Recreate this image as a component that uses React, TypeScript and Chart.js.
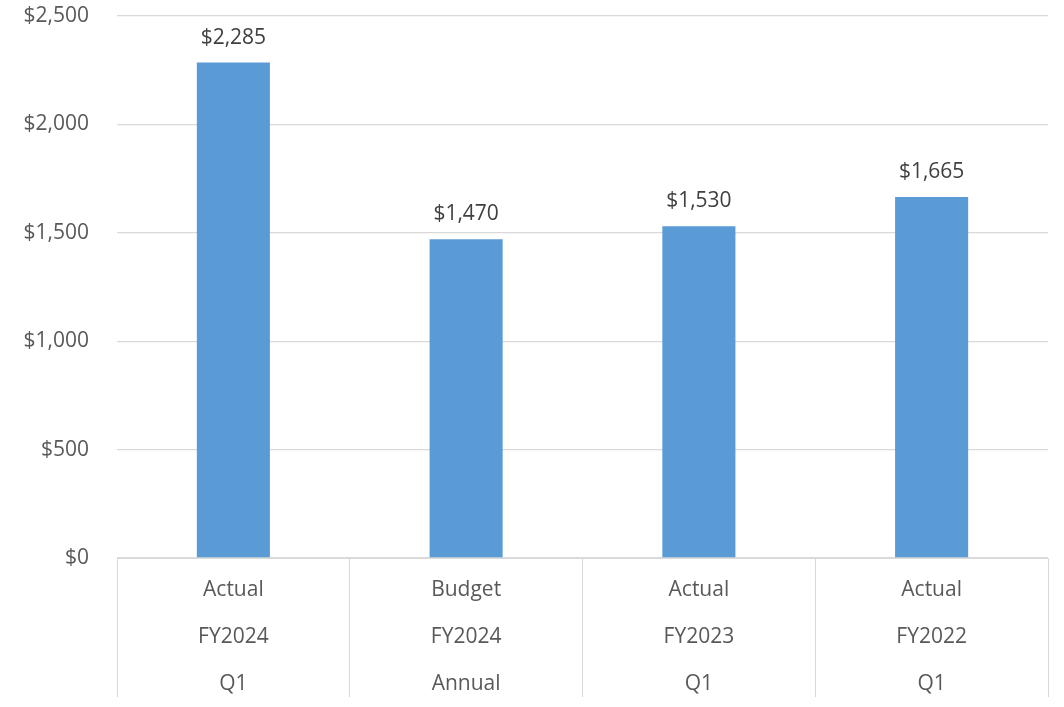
import React, { useEffect, useRef } from "react";
import { Chart, registerables } from "chart.js";

Chart.register(...registerables);

const categories: string[][] = [
  ["Actual", "FY2024", "Q1"],
  ["Budget", "FY2024", "Annual"],
  ["Actual", "FY2023", "Q1"],
  ["Actual", "FY2022", "Q1"],
];
const values: number[] = [2285, 1470, 1530, 1665];
const yTicks: number[] = [0, 500, 1000, 1500, 2000, 2500];

const FONT = "'Open Sans', 'Noto Sans', sans-serif";
const fmt = (v: number) => "$" + v.toLocaleString("en-US");

const valueLabels = {
  id: "valueLabels",
  afterDatasetsDraw(chart: any) {
    const ctx = chart.ctx;
    const meta = chart.getDatasetMeta(0);
    ctx.save();
    ctx.font = `21px ${FONT}`;
    ctx.fillStyle = "#404040";
    ctx.textAlign = "center";
    ctx.textBaseline = "middle";
    meta.data.forEach((bar: any, i: number) => {
      ctx.fillText(fmt(values[i]), bar.x, bar.y - 25);
    });
    ctx.restore();
  },
};

export default function App() {
  const ref = useRef<HTMLCanvasElement | null>(null);
  useEffect(() => {
    if (!ref.current) return;
    const chart = new Chart(ref.current, {
      type: "bar",
      data: {
        labels: categories,
        datasets: [
          {
            data: values,
            backgroundColor: "#5b9bd5",
            categoryPercentage: 1,
            barPercentage: 0.314,
          },
        ],
      },
      options: {
        responsive: false,
        animation: false,
        layout: { padding: { top: 16, right: 16, left: 0, bottom: 0 } },
        plugins: { legend: { display: false }, tooltip: { enabled: false } },
        scales: {
          x: {
            offset: true,
            afterFit: (s: any) => {
              s.height = 149;
              s.paddingLeft = 0;
              s.paddingRight = 0;
            },
            grid: {
              offset: true,
              drawOnChartArea: false,
              drawTicks: true,
              tickLength: 139,
              tickColor: "#d9d9d9",
              color: "#d9d9d9",
            },
            border: { display: true, color: "#d9d9d9" },
            ticks: {
              padding: -130.5,
              color: "#595959",
              font: { family: FONT, size: 21, lineHeight: 47 / 21 },
              maxRotation: 0,
              autoSkip: false,
            },
          },
          y: {
            min: 0,
            max: 2500,
            afterFit: (s: any) => {
              s.width = 117;
              s.paddingTop = 0;
              s.paddingBottom = 0;
            },
            afterBuildTicks: (s: any) => {
              s.ticks = yTicks.map((v) => ({ value: v }));
            },
            grid: { color: "#d9d9d9", drawTicks: false, lineWidth: 1.3 },
            border: { display: false },
            ticks: {
              padding: 28,
              color: "#595959",
              font: { family: FONT, size: 21 },
              callback: (v: any) => fmt(Number(v)),
            },
          },
        },
      },
      plugins: [valueLabels],
    });
    return () => chart.destroy();
  }, []);
  return (
    <div style={{ position: "absolute", left: 0, top: 0, width: 1064, height: 707, background: "#fff" }}>
      <canvas ref={ref} width={1064} height={707} />
    </div>
  );
}
